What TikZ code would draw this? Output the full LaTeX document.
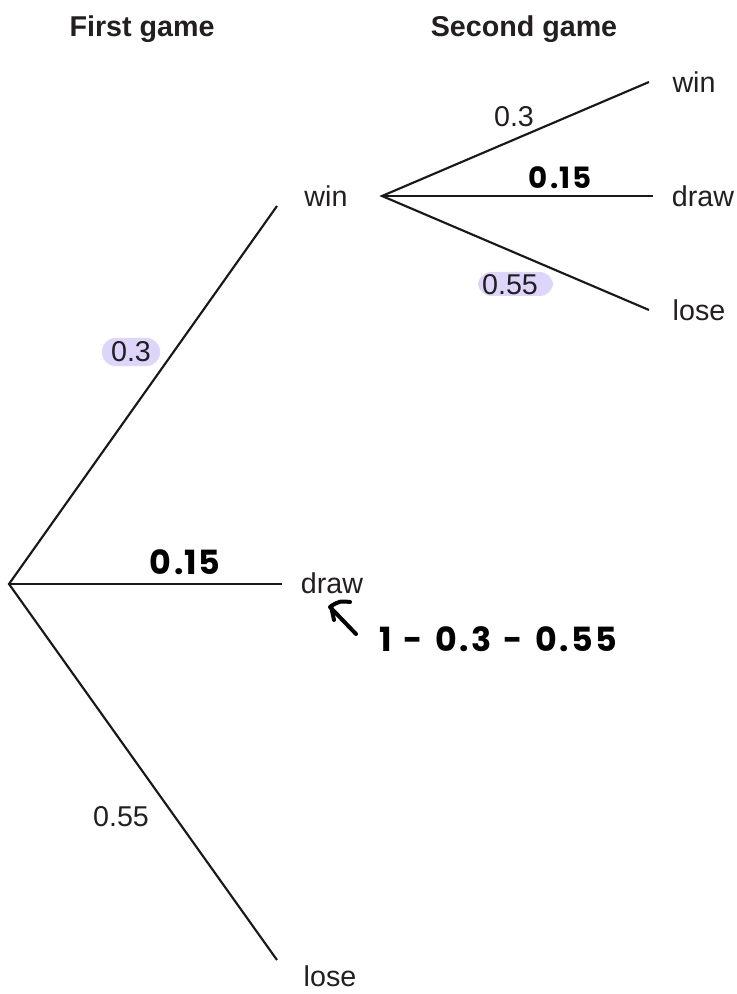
\documentclass[tikz,border=0pt]{standalone}
\usepackage{fontspec}
\setmainfont{Liberation Sans}
\newfontfamily\handfont{Poppins}
\usetikzlibrary{arrows.meta}
\definecolor{txt}{HTML}{231F20}
\definecolor{hilite}{RGB}{221,214,250}
\tikzset{
  branch/.style={line width=1.6pt, draw=black!90},
  outcome/.style={font=\fontsize{21.5}{25}\selectfont, text=txt, inner sep=0pt},
  prob/.style={font=\fontsize{21.5}{25}\selectfont, text=txt, inner sep=0pt},
  heading/.style={font=\fontsize{21.5}{25}\selectfont\bfseries, text=txt, inner sep=0pt},
  hand/.style={font=\handfont\bfseries\fontsize{22}{26}\selectfont, text=black, inner sep=0pt},
  hl/.style={fill=hilite, rounded corners=10pt}
}
\begin{document}
\begin{tikzpicture}[x=0.75pt,y=-0.75pt]
\useasboundingbox (0,0) rectangle (737,994);
\fill[white] (0,0) rectangle (737,994);

% headings
\node[heading] (h1) at (142,29) {First game};
\node[heading] (h2) at (524,29) {Second game};

% first game tree
\coordinate (r1) at (9,584);
\coordinate (e1w) at (277,206);
\coordinate (e1d) at (282,584);
\coordinate (e1l) at (277,960);
\draw[branch] (e1w) -- (r1) -- (e1l);
\draw[branch] (r1) -- (e1d);

\node[outcome] (w1) at (326,196) {win};
\node[outcome] (d1) at (332,583) {draw};
\node[outcome] (l1) at (330,976) {lose};

% second game tree
\coordinate (r2) at (382,196);
\coordinate (e2w) at (649,82);
\coordinate (e2d) at (653,196);
\coordinate (e2l) at (649,310);
\draw[branch] (e2w) -- (r2) -- (e2l);
\draw[branch] (r2) -- (e2d);

\node[outcome] (w2) at (694,82) {win};
\node[outcome] (d2) at (703,196) {draw};
\node[outcome] (l2) at (699,310) {lose};

% probabilities
\fill[hl] (102,338) rectangle (160,366);
\node[prob] (p1w) at (131,352) {0.3};
\node[hand] (p1d) at (185,562) {\fontsize{25}{28}\selectfont 0\kern2pt.\kern1pt1\kern1pt5};
\node[prob] (p1l) at (121,817) {0.55};

\node[prob] (p2w) at (514,117) {0.3};
\node[hand] (p2d) at (560,178) {0\kern1.5pt.\kern1pt1\kern1pt5};
\fill[hl] (478,272) rectangle (553,296);
\node[prob] (p2l) at (510,285) {0.55};

% annotation
\node[hand, font=\handfont\bfseries\fontsize{25}{28}\selectfont, anchor=west] (note) at (379,639)
  {1\hspace{9pt}-\hspace{9pt}0\kern2pt.\kern2pt3\hspace{9pt}-\hspace{9pt}0\kern2pt.\kern2pt5\kern2pt5};
\coordinate (atip) at (330,607);
\coordinate (atail) at (356,634);
\draw[line width=3pt, line cap=round, line join=round] (atail) -- (atip);
\draw[line width=3pt, line cap=round, line join=round] (350,602) .. controls (340,601) .. (331,606) -- (334,620);
\end{tikzpicture}
\end{document}
